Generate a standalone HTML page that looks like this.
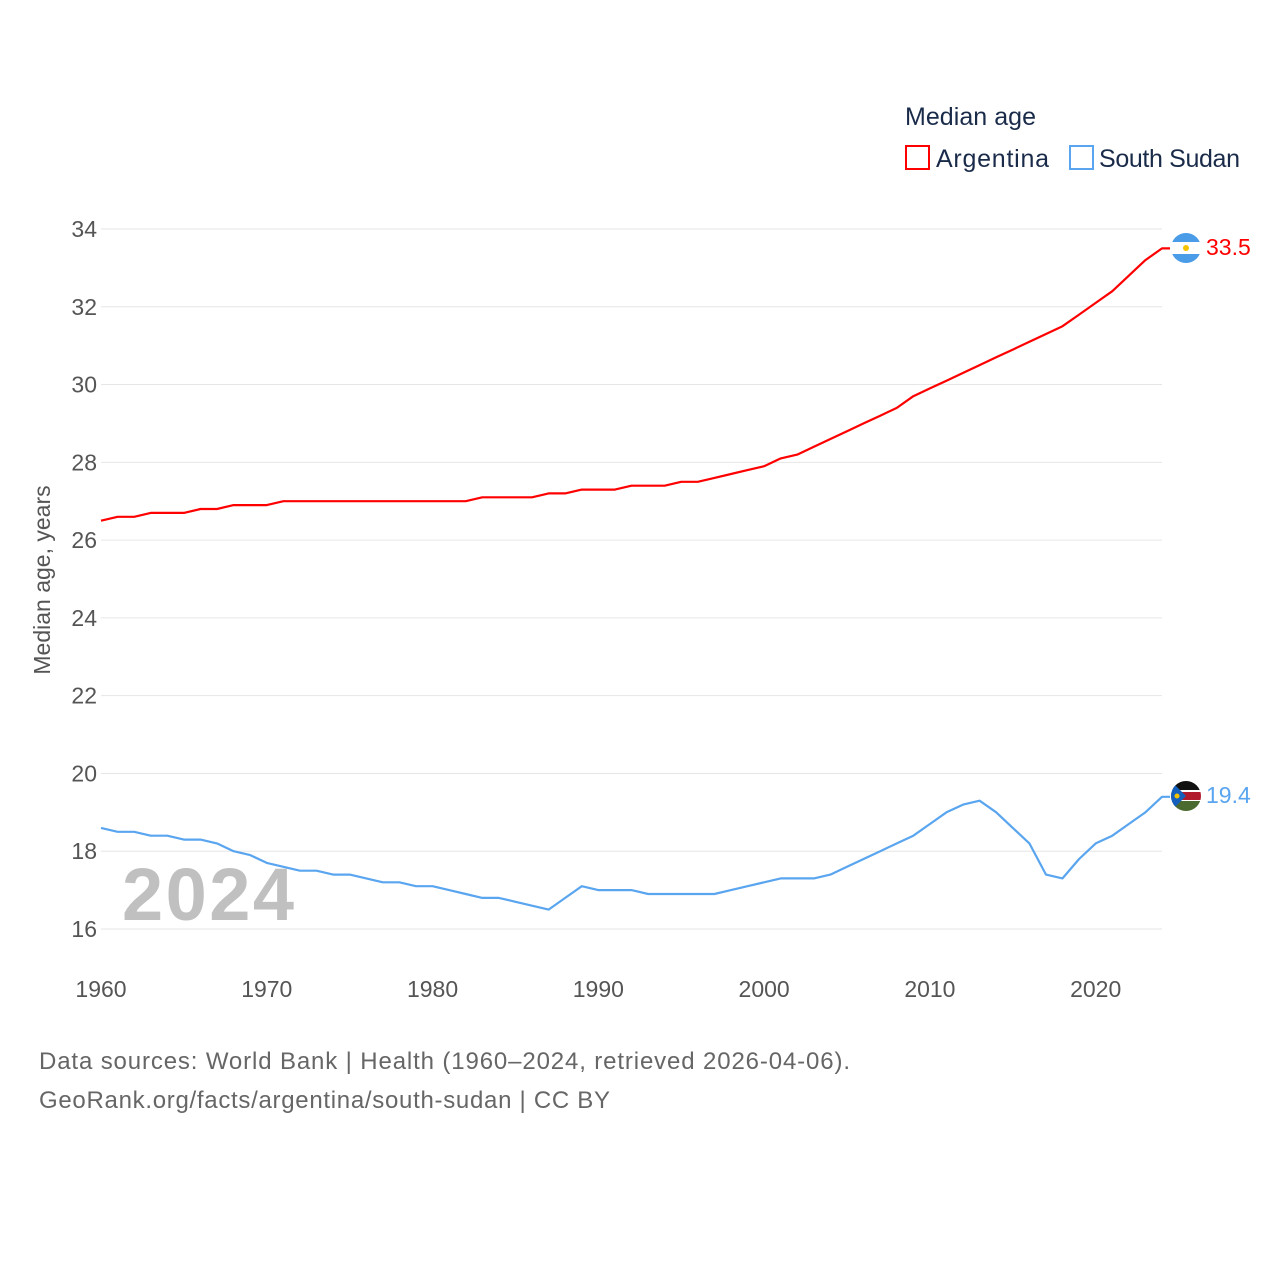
<!DOCTYPE html>
<html><head><meta charset="utf-8"><style>
body{margin:0;background:#fff;}
svg text{font-family:"Liberation Sans",sans-serif;}
</style></head><body>
<svg id="chart" width="1280" height="1280" viewBox="0 0 1280 1280" xmlns="http://www.w3.org/2000/svg">
<g>
<text x="905" y="125" font-size="25" fill="#1a2b4a" textLength="131">Median age</text>
<g><rect x="906" y="146" width="23" height="23" fill="none" stroke="#ff0000" stroke-width="2"/><text x="936" y="167" font-size="25" fill="#1a2b4a" textLength="113">Argentina</text></g>
<g><rect x="1070" y="146" width="23" height="23" fill="none" stroke="#5aa5ef" stroke-width="2"/><text x="1099" y="167" font-size="25" fill="#1a2b4a" textLength="141">South Sudan</text></g>
</g>
<g id="grid"></g>
<g id="yticks"></g>
<g id="xticks"></g>
<text transform="translate(50,580) rotate(-90)" text-anchor="middle" font-size="23" fill="#555">Median age, years</text>
<text x="122" y="920" font-size="74" font-weight="bold" fill="#c0c0c0" textLength="172">2024</text>
<g id="series"></g>
<g>
<clipPath id="ca"><circle cx="1186" cy="248" r="15"/></clipPath>
<g clip-path="url(#ca)"><rect x="1170" y="232" width="32" height="32" fill="#fff"/><rect x="1170" y="232" width="32" height="10" fill="#4a9be8"/><rect x="1170" y="254" width="32" height="10" fill="#4a9be8"/><circle cx="1186" cy="248" r="3" fill="#f6c200"/></g>
</g>
<g>
<clipPath id="cs"><circle cx="1186" cy="796" r="15"/></clipPath>
<g clip-path="url(#cs)"><rect x="1170" y="780" width="32" height="11" fill="#111"/><rect x="1170" y="790" width="32" height="12" fill="#fff"/><rect x="1170" y="792" width="32" height="8" fill="#b01c2e"/><rect x="1170" y="801" width="32" height="11" fill="#4a6a30"/><polygon points="1170,780 1186,796 1170,812" fill="#1560bd"/><circle cx="1177" cy="796" r="2.5" fill="#f6c200"/></g>
</g>
<text x="1206" y="255" font-size="23" fill="#ff0000">33.5</text>
<text x="1206" y="803" font-size="23" fill="#5aa5ef">19.4</text>
<text x="39" y="1069" font-size="24" fill="#666" textLength="811">Data sources: World Bank | Health (1960–2024, retrieved 2026-04-06).</text>
<text x="39" y="1108" font-size="24" fill="#666" textLength="571">GeoRank.org/facts/argentina/south-sudan | CC BY</text>
</svg>
<script>
const years = [];
for (let y = 1960; y <= 2024; y++) years.push(y);
const argentina = [26.5,26.6,26.6,26.7,26.7,26.7,26.8,26.8,26.9,26.9,26.9,27.0,27.0,27.0,27.0,27.0,27.0,27.0,27.0,27.0,27.0,27.0,27.0,27.1,27.1,27.1,27.1,27.2,27.2,27.3,27.3,27.3,27.4,27.4,27.4,27.5,27.5,27.6,27.7,27.8,27.9,28.1,28.2,28.4,28.6,28.8,29.0,29.2,29.4,29.7,29.9,30.1,30.3,30.5,30.7,30.9,31.1,31.3,31.5,31.8,32.1,32.4,32.8,33.2,33.5];
const southSudan = [18.6,18.5,18.5,18.4,18.4,18.3,18.3,18.2,18.0,17.9,17.7,17.6,17.5,17.5,17.4,17.4,17.3,17.2,17.2,17.1,17.1,17.0,16.9,16.8,16.8,16.7,16.6,16.5,16.8,17.1,17.0,17.0,17.0,16.9,16.9,16.9,16.9,16.9,17.0,17.1,17.2,17.3,17.3,17.3,17.4,17.6,17.8,18.0,18.2,18.4,18.7,19.0,19.2,19.3,19.0,18.6,18.2,17.4,17.3,17.8,18.2,18.4,18.7,19.0,19.4];
const yTicks = [16,18,20,22,24,26,28,30,32,34];
const xTicks = [1960,1970,1980,1990,2000,2010,2020];

const NS = "http://www.w3.org/2000/svg";
const X = yr => 101 + (yr - 1960) * (1162 - 101) / 64;
const Y = v => 929 - (v - 16) * (700 / 18);
function mk(tag, attrs, parent) {
  const e = document.createElementNS(NS, tag);
  for (const k in attrs) e.setAttribute(k, attrs[k]);
  parent.appendChild(e);
  return e;
}
const grid = document.getElementById('grid'), yt = document.getElementById('yticks'), xt = document.getElementById('xticks'), ser = document.getElementById('series');
yTicks.forEach(v => {
  const l = mk('line', {x1: 101, x2: 1162, y1: Y(v), y2: Y(v), stroke: '#e6e6e6', 'stroke-width': 1}, grid);
  
  
  const t = mk('text', {x: 97, y: Y(v) + 8, 'text-anchor': 'end', 'font-size': 23, fill: '#555'}, yt);
  t.textContent = v;
  
  
});
xTicks.forEach(yr => {
  const t = mk('text', {x: X(yr), y: 997, 'text-anchor': 'middle', 'font-size': 23, fill: '#555'}, xt);
  t.textContent = yr;
  
  
});
function line(vals, color, name) {
  const d = vals.map((v, i) => (i ? 'L' : 'M') + X(years[i]).toFixed(1) + ',' + Y(v).toFixed(1)).join(' ');
  const last = vals[vals.length - 1];
  const p = mk('path', {d: d + ' L' + (X(2024) + 8) + ',' + Y(last).toFixed(1), fill: 'none', stroke: color, 'stroke-width': 2.2, 'stroke-linejoin': 'round'}, ser);
  
  
}
line(argentina, '#ff0000', 'line-argentina');
line(southSudan, '#5aa5ef', 'line-south-sudan');
</script>
</body></html>
